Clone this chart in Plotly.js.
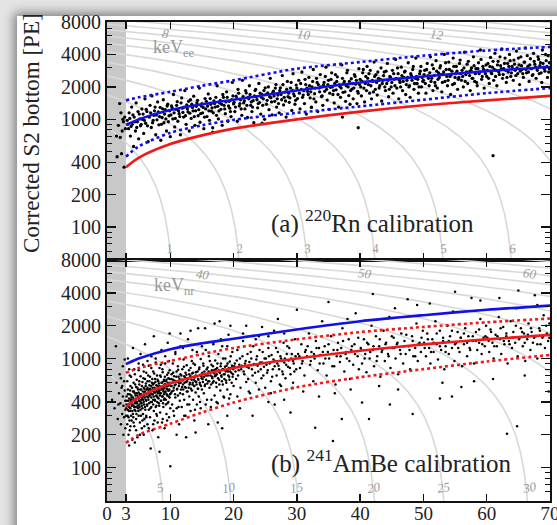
<!DOCTYPE html>
<html><head><meta charset="utf-8">
<script src="https://cdn.plot.ly/plotly-3.0.1.min.js"></script>
<style>
html,body{margin:0;padding:0;width:557px;height:525px;overflow:hidden;background:#e4e4e4;}
#card{position:absolute;left:17px;top:16px;width:620px;height:600px;background:#fff;box-shadow:0 0 10px 3px rgba(0,0,0,0.45);}
#plot{position:absolute;left:0;top:0;width:557px;height:525px;}
</style></head>
<body><div id="card"></div><div id="plot"></div>
<script>
// ---------- data ----------
const xTickVals = [0,3,10,20,30,40,50,60,70];
const yTickVals = [100,200,400,1000,2000,4000,8000];
const yMinorVals = [50,60,70,80,90,300,500,600,700,800,900,3000,5000,6000,7000];

// band curves (cS1 in PE, cS2 bottom in PE)
const bandS1  = [3,5,10,15,20,30,40,50,60,70];
const erMean  = [890,1000,1220,1380,1520,1850,2200,2500,2800,3060];
const erUpper = [1500,1600,1800,2050,2300,2950,3400,3900,4350,4700];
const erLower = [450,560,750,880,990,1150,1320,1520,1750,1950];
const nrMean  = [360,440,590,710,820,1000,1180,1350,1500,1650];
const nrUpper = [740,820,950,1100,1250,1500,1750,1950,2150,2330];
const nrLower = [169,200,253,320,395,545,675,800,940,1080];

// energy contour lines: S1 and S2 per keVee
const s1PerKeVee = 10.75;
const s2PerKeVee = 848;
const eeEnergies = [1,2,3,4,5,6,7,8,9,10,11,12,13,14,15,16];
const nrEnergies = [5,10,15,20,25,30,35,40,45,50,55,60,65,70];
const nrAsKeVee  = [0.88,1.88,2.87,3.99,5.01,6.24,7.4,8.56,9.75,10.94,12.15,13.36,14.6,15.8];

// 220Rn calibration events [cS1, cS2b]
const rnEventsA = [
[2.0,1400],[2.2,1150],[2.6,950],[1.8,880],[2.4,780],[1.5,700],[2.1,680],[2.9,820],[2.3,480],[1.6,450],[2.7,360],[2.5,1000],[2.8,1050],
[3.2,980],[3.4,820],[3.5,1150],[3.7,700],[3.9,1300],[4.0,900],[4.2,560],[4.3,1050],[4.5,780],[4.6,1420],[4.8,950],[5.0,660],[5.1,1120],[5.3,870],[5.5,1250],[5.6,1000],[5.8,740],[6.0,1550],[6.1,920],[6.3,1180],[6.5,620],[6.6,1060],[6.8,1350],[7.0,840],[7.1,1650],[7.3,980],[7.5,1200],[7.7,720],[7.8,1100],[8.0,1450],[8.2,890],[8.4,1290],[8.5,640],[8.7,1040],[8.9,1520],[9.0,930],[9.2,1230],[9.4,780],[9.6,1380],[9.8,1080],[10.0,690],
[10.2,1330],[10.4,1010],[10.5,1700],[10.7,850],[10.9,1240],[11.1,1460],[11.2,960],[11.4,1130],[11.6,720],[11.8,1580],[11.9,1270],[12.1,1050],[12.3,1850],[12.5,900],[12.6,1360],[12.8,1170],[13.0,780],[13.2,1520],[13.3,1020],[13.5,1290],[13.7,1640],[13.9,880],[14.0,1200],[14.2,1420],[14.4,1080],[14.6,1950],[14.7,940],[14.9,1330],[15.1,1150],[15.3,820],[15.5,1560],[15.6,1250],[15.8,1060],[16.0,1720],[16.2,980],[16.4,1380],[16.5,1190],[16.7,760],[16.9,1480],[17.1,1300],[17.3,1090],[17.4,2050],[17.6,1010],[17.8,1420],[18.0,1240],[18.2,880],[18.4,1600],[18.5,1350],[18.7,1130],[18.9,1800],[19.1,960],[19.3,1470],[19.4,1270],[19.6,1060],[19.8,2200],[20.0,1390],
[20.2,1180],[20.4,1640],[20.6,960],[20.7,1900],[20.9,1330],[21.1,1520],[21.3,1090],[21.4,2300],[21.6,1420],[21.8,1250],[22.0,1760],[22.2,1040],[22.3,1600],[22.5,2050],[22.7,1350],[22.9,1180],[23.1,1490],[23.2,930],[23.4,1850],[23.6,1620],[23.8,1280],[24.0,2150],[24.1,1430],[24.3,1120],[24.5,1700],[24.7,1550],[24.9,1000],[25.0,1960],[25.2,1380],[25.4,1760],[25.6,1230],[25.8,2400],[25.9,1590],[26.1,1100],[26.3,1830],[26.5,1470],[26.7,2100],[26.8,1300],[27.0,1680],[27.2,1150],[27.4,1960],[27.6,1520],[27.7,2550],[27.9,1360],[28.1,1790],[28.3,1050],[28.5,2250],[28.6,1620],[28.8,1440],[29.0,1950],[29.2,1210],[29.4,2650],[29.5,1720],[29.7,1380],[29.9,2080],
[30.1,1560],[30.3,2300],[30.5,1250],[30.7,1900],[30.8,2750],[31.0,1680],[31.2,1400],[31.4,2100],[31.5,1120],[31.7,1820],[31.9,2450],[32.1,1580],[32.3,1290],[32.4,2000],[32.6,2900],[32.8,1730],[33.0,1450],[33.2,2200],[33.3,1180],[33.5,1950],[33.7,2600],[33.9,1630],[34.1,1350],[34.2,2080],[34.4,1820],[34.6,3050],[34.8,1510],[35.0,2300],[35.1,1240],[35.3,1980],[35.5,2700],[35.7,1700],[35.9,1420],[36.0,2150],[36.2,1880],[36.4,2480],[36.6,1300],[36.8,2020],[36.9,1600],[37.1,3200],[37.3,1780],[37.5,2250],[37.7,1470],[37.8,2050],[38.0,2850],[38.2,1660],[38.4,1380],[38.6,2380],[38.7,1910],[38.9,1550],[39.1,2600],[39.3,2120],[39.5,1400],[39.6,1820],[39.8,2950],
[40.0,2350],[40.2,1650],[40.4,2700],[40.6,1950],[40.7,1450],[40.9,2500],[41.1,3100],[41.3,2100],[41.5,1750],[41.6,2850],[41.8,1550],[42.0,2250],[42.2,3400],[42.4,1900],[42.5,2600],[42.7,1680],[42.9,2400],[43.1,2050],[43.3,3000],[43.4,1480],[43.6,2300],[43.8,2750],[44.0,1850],[44.2,2150],[44.3,3300],[44.5,1620],[44.7,2500],[44.9,2000],[45.1,2850],[45.2,1750],[45.4,2350],[45.6,3600],[45.8,1950],[46.0,2650],[46.1,1550],[46.3,2200],[46.5,3050],[46.7,1850],[46.9,2450],[47.0,2750],[47.2,1700],[47.4,2300],[47.6,3350],[47.8,2050],[47.9,1600],[48.1,2550],[48.3,2900],[48.5,1900],[48.7,2400],[48.8,3700],[49.0,2150],[49.2,1750],[49.4,2650],[49.6,3100],[49.7,2000],
[50.0,2300],[50.2,2850],[50.4,1750],[50.6,3300],[50.7,2550],[50.9,2050],[51.1,3800],[51.3,2400],[51.5,1850],[51.6,2950],[51.8,2200],[52.0,3500],[52.2,1950],[52.4,2700],[52.5,2450],[52.7,3150],[52.9,1800],[53.1,2600],[53.3,4000],[53.4,2250],[53.6,2900],[53.8,2050],[54.0,3400],[54.2,2500],[54.3,1700],[54.5,2800],[54.7,3700],[54.9,2150],[55.1,2650],[55.2,3100],[55.4,1900],[55.6,2450],[55.8,3550],[56.0,2300],[56.1,2850],[56.3,2000],[56.5,4200],[56.7,2600],[56.9,3250],[57.0,2150],[57.2,2750],[57.4,1850],[57.6,3000],[57.8,2400],[57.9,3800],[58.1,2250],[58.3,2950],[58.5,2050],[58.7,3350],[58.8,2650],[59.0,4400],[59.2,2350],[59.4,3100],[59.6,1950],[59.7,2800],
[60.0,2500],[60.2,3300],[60.4,2150],[60.6,3750],[60.7,2700],[60.9,3050],[61.1,2300],[61.3,4100],[61.5,2850],[61.6,2050],[61.8,3450],[62.0,2600],[62.2,3150],[62.4,4500],[62.5,2400],[62.7,2950],[62.9,3700],[63.1,2200],[63.3,3300],[63.4,2750],[63.6,4000],[63.8,2500],[64.0,3100],[64.2,2300],[64.3,3550],[64.5,2850],[64.7,4300],[64.9,2650],[65.1,3200],[65.2,2100],[65.4,3800],[65.6,2900],[65.8,2450],[66.0,3400],[66.1,4600],[66.3,2700],[66.5,3100],[66.7,2250],[66.9,3650],[67.0,2950],[67.2,2550],[67.4,4100],[67.6,3250],[67.8,2400],[67.9,3000],[68.1,3800],[68.3,2650],[68.5,3350],[68.7,2200],[68.8,4400],[69.0,3050],[69.2,2800],[69.4,3500],[69.6,2450],[69.7,3900],[69.9,2950],
[16.7,836],[37.2,1050],[39.7,836],[61.0,460],[32.3,1300],[24.5,920]
];
const rnEventsB = [
[3.3,900],[3.6,1020],[3.8,860],[4.1,1100],[4.4,950],[4.7,840],[4.9,1180],[5.2,1010],[5.4,900],[5.7,1120],[5.9,980],[6.2,1240],[6.4,870],[6.7,1050],[6.9,1150],[7.2,930],[7.4,1090],[7.6,1300],[7.9,990],[8.1,1170],[8.3,1060],[8.6,900],[8.8,1250],[9.1,1120],[9.3,1010],[9.5,1330],[9.7,950],[9.9,1200],
[10.1,1100],[10.3,1280],[10.6,1150],[10.8,1020],[11.0,1350],[11.3,1200],[11.5,1060],[11.7,1420],[12.0,1160],[12.2,1300],[12.4,1080],[12.7,1250],[12.9,1470],[13.1,1140],[13.4,1380],[13.6,1200],[13.8,1060],[14.1,1320],[14.3,1500],[14.5,1230],[14.8,1130],[15.0,1400],[15.2,1290],[15.4,1050],[15.7,1470],[15.9,1330],[16.1,1200],[16.3,1560],[16.6,1280],[16.8,1150],[17.0,1400],[17.2,1600],[17.5,1320],[17.7,1200],[17.9,1500],[18.1,1380],[18.3,1700],[18.6,1250],[18.8,1450],[19.0,1600],[19.2,1330],[19.5,1180],[19.7,1520],[19.9,1650],
[20.1,1440],[20.3,1300],[20.5,1560],[20.8,1750],[21.0,1400],[21.2,1250],[21.5,1620],[21.7,1480],[21.9,1850],[22.1,1350],[22.4,1550],[22.6,1700],[22.8,1450],[23.0,1300],[23.3,1650],[23.5,1900],[23.7,1520],[23.9,1400],[24.2,1750],[24.4,1600],[24.6,1350],[24.8,1850],[25.1,1700],[25.3,1500],[25.5,2000],[25.7,1620],[26.0,1450],[26.2,1780],[26.4,1650],[26.6,1950],[26.9,1550],[27.1,1400],[27.3,1850],[27.5,1700],[27.8,2100],[28.0,1600],[28.2,1480],[28.4,1900],[28.7,1750],[28.9,1580],[29.1,2200],[29.3,1850],[29.6,1650],[29.8,1500],
[30.0,1950],[30.4,1750],[30.6,2150],[30.9,1600],[31.1,1850],[31.3,2350],[31.6,1950],[31.8,1700],[32.0,2050],[32.2,1800],[32.5,2250],[32.7,1550],[32.9,1950],[33.1,2400],[33.4,2100],[33.6,1800],[33.8,2000],[34.0,1650],[34.3,2200],[34.5,2500],[34.7,1900],[34.9,2100],[35.2,1750],[35.4,2350],[35.6,2000],[35.8,1850],[36.1,2600],[36.3,2250],[36.5,1700],[36.7,2100],[37.0,1950],[37.2,2400],[37.4,2150],[37.6,1800],[37.9,2700],[38.1,2000],[38.3,2250],[38.5,1850],[38.8,2150],[39.0,1950],[39.2,2500],[39.4,2300],[39.7,1750],[39.9,2100],
[40.1,2000],[40.3,2250],[40.5,2900],[40.8,2150],[41.0,1850],[41.2,2400],[41.4,2650],[41.7,2050],[41.9,2300],[42.1,1800],[42.3,2500],[42.6,2200],[42.8,2750],[43.0,1950],[43.2,2350],[43.5,2150],[43.7,2550],[43.9,2000],[44.1,2800],[44.4,2300],[44.6,1900],[44.8,2450],[45.0,2200],[45.3,2650],[45.5,2050],[45.7,2400],[45.9,3000],[46.2,2300],[46.4,2000],[46.6,2550],[46.8,2250],[47.1,2800],[47.3,2100],[47.5,2450],[47.7,2000],[48.0,2650],[48.2,2300],[48.4,3100],[48.6,2150],[48.9,2500],[49.1,2350],[49.3,2000],[49.5,2800],[49.8,2450],[49.9,2250],
[50.1,2600],[50.3,2150],[50.5,2900],[50.8,2400],[51.0,2700],[51.2,2250],[51.4,3200],[51.7,2550],[51.9,2050],[52.1,2800],[52.3,2350],[52.6,3000],[52.8,2600],[53.0,2200],[53.2,2750],[53.5,3350],[53.7,2500],[53.9,2300],[54.1,2900],[54.4,2600],[54.6,2100],[54.8,3100],[55.0,2450],[55.3,2800],[55.5,2350],[55.7,3300],[55.9,2650],[56.2,2500],[56.4,3000],[56.6,2250],[56.8,2750],[57.1,3450],[57.3,2550],[57.5,2850],[57.7,2400],[58.0,3150],[58.2,2650],[58.4,2200],[58.6,2950],[58.9,2750],[59.1,3600],[59.3,2500],[59.5,2900],[59.8,2650],[59.9,3200],
[60.1,2850],[60.3,2400],[60.5,3100],[60.8,2650],[61.0,3450],[61.2,2900],[61.4,2500],[61.7,3200],[61.9,2750],[62.1,3800],[62.3,2950],[62.6,2600],[62.8,3300],[63.0,2850],[63.2,2450],[63.5,3100],[63.7,3500],[63.9,2700],[64.1,2950],[64.4,3250],[64.6,2550],[64.8,3000],[65.0,3700],[65.3,2800],[65.5,3150],[65.7,2650],[65.9,3400],[66.2,2900],[66.4,3900],[66.6,2750],[66.8,3200],[67.1,2950],[67.3,2600],[67.5,3450],[67.7,3050],[68.0,2850],[68.2,3600],[68.4,3150],[68.6,2700],[68.9,3300],[69.1,2950],[69.3,4000],[69.5,3100],[69.8,2750],[69.9,3350]
];

// 241AmBe calibration events [cS1, cS2b]
const ambeEventsA = [
[0.8,420],[1.2,350],[1.5,600],[1.7,280],[1.9,480],[2.0,720],[2.1,390],[2.2,250],[2.3,540],[2.4,310],[2.5,850],[2.5,450],[2.6,370],[2.7,620],[2.7,290],[2.8,510],[2.8,980],[2.9,410],[2.9,340],[2.9,230],[1.4,1300],[2.6,200],[2.2,660],[1.8,380],[2.4,560],
[3.0,300],[3.1,450],[3.1,380],[3.2,620],[3.2,250],[3.3,340],[3.3,520],[3.4,410],[3.4,290],[3.5,800],[3.5,360],[3.6,470],[3.6,220],[3.7,560],[3.7,330],[3.8,400],[3.8,680],[3.9,270],[3.9,440],[4.0,380],[4.0,950],[4.1,500],[4.1,310],[4.2,420],[4.2,600],[4.3,240],[4.3,360],[4.4,480],[4.4,720],[4.5,330],[4.5,410],[4.6,550],[4.6,280],[4.7,390],[4.7,640],[4.8,460],[4.8,190],[4.9,350],[4.9,520],[5.0,430],[5.0,300],[5.0,780],[5.1,380],[5.1,580],[5.2,260],[5.2,470],[5.3,340],[5.3,690],[5.4,420],[5.4,520],[5.5,230],[5.5,370],[5.6,610],[5.6,450],[5.7,310],[5.7,880],[5.8,400],[5.8,540],[5.9,280],[5.9,480],[6.0,360],[6.0,650],[3.5,160],[4.4,170],[5.3,1100],[4.1,1250],[3.3,1000],[5.8,200],
[6.1,420],[6.1,560],[6.2,300],[6.2,740],[6.3,480],[6.3,380],[6.4,620],[6.4,250],[6.5,520],[6.5,440],[6.6,860],[6.6,340],[6.7,570],[6.7,460],[6.8,290],[6.8,680],[6.9,400],[6.9,510],[7.0,1050],[7.0,360],[7.1,600],[7.1,470],[7.2,220],[7.2,540],[7.3,420],[7.3,760],[7.4,330],[7.4,590],[7.5,490],[7.5,270],[7.6,650],[7.6,410],[7.7,530],[7.7,920],[7.8,370],[7.8,460],[7.9,700],[7.9,300],[8.0,560],[8.0,440],[8.1,190],[8.1,620],[8.2,500],[8.2,390],[8.3,820],[8.3,560],[8.4,320],[8.4,480],[8.5,680],[8.5,410],[8.6,1200],[8.6,540],[8.7,260],[8.7,600],[8.8,450],[8.8,750],[8.9,360],[8.9,520],[9.0,640],[9.0,420],[9.1,230],[9.1,580],[9.2,490],[9.2,900],[9.3,380],[9.3,620],[9.4,530],[9.4,310],[9.5,710],[9.5,460],[9.6,560],[9.6,1400],[9.7,400],[9.7,660],[9.8,290],[9.8,510],[9.9,780],[9.9,440],[10.0,600],[10.0,350],[6.9,150],[8.3,140],[10.0,103],[7.4,1600],[9.9,1700],[6.0,1350],
[10.1,480],[10.2,720],[10.2,560],[10.3,380],[10.4,640],[10.4,900],[10.5,510],[10.6,300],[10.6,690],[10.7,570],[10.8,440],[10.8,1100],[10.9,620],[11.0,350],[11.0,760],[11.1,530],[11.2,460],[11.2,850],[11.3,680],[11.4,250],[11.4,590],[11.5,410],[11.6,1300],[11.6,720],[11.7,520],[11.8,640],[11.8,360],[11.9,800],[12.0,470],[12.0,580],[12.1,980],[12.2,690],[12.2,420],[12.3,550],[12.4,300],[12.4,740],[12.5,610],[12.6,500],[12.6,870],[12.7,380],[12.8,660],[12.8,1500],[12.9,540],[13.0,720],[13.0,450],[13.1,600],[13.2,330],[13.2,820],[13.3,680],[13.4,510],[13.4,950],[13.5,580],[13.6,420],[13.6,740],[13.7,640],[13.8,270],[13.8,560],[13.9,880],[14.0,490],[14.0,700],[14.1,610],[14.2,1150],[14.2,380],[14.3,760],[14.4,530],[14.4,650],[14.5,450],[14.6,830],[14.7,580],[14.8,350],[14.8,990],[14.9,690],[15.0,520],[11.0,200],[12.5,190],[14.0,210],[13.2,1800],
[15.1,650],[15.2,900],[15.3,480],[15.4,760],[15.5,580],[15.6,1200],[15.7,700],[15.8,420],[15.9,830],[16.0,620],[16.1,1050],[16.2,540],[16.3,740],[16.4,360],[16.5,880],[16.6,680],[16.7,600],[16.8,1400],[16.9,780],[17.0,460],[17.1,960],[17.2,700],[17.3,550],[17.4,820],[17.5,390],[17.6,1100],[17.7,640],[17.8,750],[17.9,510],[18.0,900],[18.1,680],[18.2,1300],[18.3,580],[18.4,800],[18.5,440],[18.6,720],[18.7,1000],[18.8,630],[18.9,860],[19.0,520],[19.1,760],[19.2,1650],[19.3,680],[19.4,940],[19.5,470],[19.6,820],[19.7,600],[19.8,1150],[19.9,720],[20.0,560],[16.0,250],[17.5,260],[19.0,300],[18.2,230],[15.5,1900],[17.0,2100],[19.5,2000],
[20.2,900],[20.4,650],[20.6,1200],[20.8,780],[21.0,1000],[21.1,540],[21.3,860],[21.5,1450],[21.7,720],[21.9,950],[22.0,610],[22.2,1100],[22.4,820],[22.6,480],[22.8,1000],[23.0,700],[23.1,1300],[23.3,880],[23.5,600],[23.7,1050],[23.9,760],[24.0,1600],[24.2,920],[24.4,660],[24.6,1150],[24.8,840],[25.0,540],[25.1,1000],[25.3,740],[25.5,1250],[25.7,900],[25.9,620],[26.0,1080],[26.2,800],[26.4,1800],[26.6,950],[26.8,700],[27.0,1150],[27.1,860],[27.3,580],[27.5,1000],[27.7,760],[27.9,1400],[28.0,920],[28.2,660],[28.4,1100],[28.6,840],[28.8,1250],[29.0,720],[29.1,1000],[29.3,540],[29.5,900],[29.7,1500],[29.9,800],[21.0,350],[23.0,300],[25.5,400],[28.0,420],[22.0,2000],[27.0,2300],[24.5,1950],[29.0,320],[26.5,380],
[30.2,1100],[30.5,820],[30.7,1350],[30.9,950],[31.2,700],[31.4,1200],[31.6,1050],[31.9,1700],[32.1,880],[32.3,1150],[32.6,620],[32.8,1000],[33.0,1450],[33.3,780],[33.5,1250],[33.7,1080],[34.0,2200],[34.2,900],[34.4,1300],[34.7,700],[34.9,1150],[35.1,1000],[35.4,1600],[35.6,850],[35.8,1200],[36.1,580],[36.3,1050],[36.5,1400],[36.8,930],[37.0,1250],[37.2,1900],[37.5,760],[37.7,1100],[37.9,1000],[38.2,1500],[38.4,650],[38.6,1200],[38.9,880],[39.1,1350],[39.3,2600],[39.6,1050],[39.8,800],[31.0,500],[33.5,450],[36.0,480],[38.5,520],[32.9,232],[35.7,176],[37.1,280],[30.0,2800],[35.0,3300],[38.0,2300],
[40.1,1250],[40.3,900],[40.6,1500],[40.8,1100],[41.0,750],[41.3,1350],[41.5,1000],[41.8,2000],[42.0,1200],[42.2,850],[42.5,1600],[42.7,1050],[43.0,1300],[43.2,680],[43.4,1150],[43.7,1800],[43.9,950],[44.1,1400],[44.4,1100],[44.6,2400],[44.8,820],[45.1,1250],[45.3,1550],[45.6,1000],[45.8,1350],[46.0,720],[46.3,1200],[46.5,1700],[46.8,900],[47.0,1450],[47.2,1100],[47.5,3500],[47.7,1300],[47.9,800],[48.2,1600],[48.4,1050],[48.7,1250],[48.9,2100],[49.1,950],[49.4,1400],[49.6,1150],[49.9,1800],[41.4,280],[44.7,380],[40.3,395],[48.3,310],[43.0,560],[46.0,520],[42.0,3900],[45.5,2900],[49.0,3100],
[50.1,1400],[50.4,1050],[50.6,1700],[50.9,1250],[51.1,900],[51.4,1500],[51.6,1150],[51.9,2200],[52.1,1350],[52.3,980],[52.6,1800],[52.8,1200],[53.1,1450],[53.3,800],[53.5,1300],[53.8,2000],[54.0,1100],[54.2,1600],[54.5,1250],[54.7,2700],[54.9,950],[55.2,1400],[55.4,1750],[55.7,1150],[55.9,1550],[56.1,850],[56.4,1350],[56.6,1900],[56.9,1050],[57.1,1600],[57.3,1250],[57.6,3600],[57.8,1450],[58.0,900],[58.3,1750],[58.5,1200],[58.8,1400],[59.0,2300],[59.2,1100],[59.5,1550],[59.7,1300],[59.9,2000],[52.6,430],[54.5,450],[53.0,600],[56.0,550],[58.0,620],[51.0,3200],[55.0,4100],[59.0,3400],
[60.1,1550],[60.4,1150],[60.6,1850],[60.9,1400],[61.1,1000],[61.4,1650],[61.6,1300],[61.9,2400],[62.1,1500],[62.3,1100],[62.6,1950],[62.8,1350],[63.1,1600],[63.3,900],[63.5,1450],[63.8,2200],[64.0,1250],[64.2,1750],[64.5,1400],[64.7,2900],[64.9,1050],[65.2,1550],[65.4,1900],[65.7,1300],[65.9,1700],[66.1,950],[66.4,1500],[66.6,2100],[66.9,1200],[67.1,1750],[67.3,1400],[67.6,3800],[67.8,1600],[68.0,1000],[68.3,1900],[68.5,1350],[68.8,1550],[69.0,2500],[69.2,1250],[69.5,1700],[69.7,1450],[69.9,2100],[63.2,205],[64.8,240],[69.8,500],[61.0,650],[66.0,700],[62.0,3600],[65.0,4200],[68.0,3100]
];
const ambeEventsB = [
[3.05,350],[3.15,410],[3.25,300],[3.3,470],[3.35,380],[3.45,330],[3.5,430],[3.55,270],[3.6,390],[3.65,510],[3.7,350],[3.75,420],[3.8,300],[3.85,460],[3.9,370],[3.95,540],[4.0,330],[4.05,410],[4.1,440],[4.15,290],[4.2,370],[4.25,500],[4.3,420],[4.35,340],[4.4,390],[4.45,580],[4.5,460],[4.55,360],[4.6,430],[4.65,310],[4.7,480],[4.75,400],[4.8,540],[4.85,370],[4.9,440],[4.95,330],[5.0,490],[5.05,410],[5.1,620],[5.15,360],[5.2,450],[5.25,520],[5.3,400],[5.35,300],[5.4,470],[5.45,390],[5.5,560],[5.55,430],[5.6,350],[5.65,500],[5.7,420],[5.75,660],[5.8,460],[5.85,380],[5.9,530],[5.95,440],[6.0,500],[6.05,340],[6.1,470],[6.15,590],[6.2,410],[6.25,520],[6.3,450],[6.35,370],[6.4,540],[6.45,480],[6.5,700],[6.55,420],[6.6,500],[6.65,390],[6.7,620],[6.75,460],[6.8,530],[6.85,350],[6.9,480],[6.95,560],[7.0,440],[7.05,510],[7.1,400],[7.15,650],[7.2,470],[7.25,580],[7.3,380],[7.35,500],[7.4,450],[7.45,730],[7.5,540],[7.55,420],[7.6,490],[7.65,610],[7.7,360],[7.75,520],[7.8,570],[7.85,450],[7.9,500],[7.95,400],[8.0,640],[8.05,480],[8.1,530],[8.15,430],[8.2,590],[8.25,370],[8.3,510],[8.35,460],[8.4,700],[8.45,550],[8.5,480],[8.55,410],[8.6,600],[8.65,520],[8.7,450],[8.75,800],[8.8,560],[8.85,390],[8.9,500],[8.95,620],[9.0,470],[9.05,540],[9.1,430],[9.15,680],[9.2,580],[9.25,500],[9.3,420],[9.35,560],[9.4,640],[9.45,470],[9.5,530],[9.55,390],[9.6,600],[9.65,510],[9.7,740],[9.75,450],[9.8,580],[9.85,520],[9.9,650],[9.95,470],
[3.4,200],[4.0,180],[4.6,220],[5.2,200],[5.9,240],[6.6,230],[7.3,250],[8.0,260],[8.8,280],[9.5,270],[4.2,260],[3.7,240],[5.6,270],[6.2,290],[7.8,310],[3.6,700],[4.3,800],[5.0,900],[5.8,760],[6.4,950],[7.0,820],[7.7,1000],[8.5,880],[9.2,1050],[9.8,950],
[10.05,560],[10.15,650],[10.25,500],[10.35,600],[10.45,740],[10.55,540],[10.65,630],[10.75,470],[10.85,580],[10.95,680],[11.05,520],[11.15,610],[11.25,790],[11.35,560],[11.45,650],[11.55,480],[11.65,600],[11.75,700],[11.85,550],[11.95,630],[12.05,520],[12.15,840],[12.25,600],[12.35,670],[12.45,540],[12.55,710],[12.65,620],[12.75,500],[12.85,650],[12.95,780],[13.05,580],[13.15,690],[13.25,530],[13.35,640],[13.45,730],[13.55,600],[13.65,900],[13.75,560],[13.85,670],[13.95,620],[14.05,750],[14.15,580],[14.25,690],[14.35,530],[14.45,640],[14.55,800],[14.65,600],[14.75,710],[14.85,560],[14.95,660],[15.05,740],[15.15,610],[15.25,860],[15.35,680],[15.45,560],[15.55,720],[15.65,640],[15.75,800],[15.85,590],[15.95,700],[16.05,760],[16.15,620],[16.25,950],[16.35,700],[16.45,580],[16.55,780],[16.65,660],[16.75,850],[16.85,620],[16.95,730],[17.05,690],[17.15,800],[17.25,600],[17.35,720],[17.45,900],[17.55,660],[17.65,780],[17.75,580],[17.85,740],[17.95,850],[18.05,700],[18.15,620],[18.25,800],[18.35,1000],[18.45,720],[18.55,650],[18.65,840],[18.75,760],[18.85,600],[18.95,780],[19.05,900],[19.15,700],[19.25,820],[19.35,640],[19.45,760],[19.55,1050],[19.65,740],[19.75,860],[19.85,680],[19.95,800],
[10.5,330],[11.3,360],[12.2,300],[13.0,380],[13.9,340],[14.7,400],[15.6,380],[16.5,420],[17.3,400],[18.4,450],[19.3,430],[10.8,1150],[12.0,1250],[13.5,1200],[15.0,1300],[16.8,1350],[18.0,1500],[19.0,1300],[11.6,1700],[14.4,1900],[17.8,2200],
[20.1,850],[20.3,760],[20.5,960],[20.7,700],[20.9,880],[21.2,800],[21.4,1050],[21.6,760],[21.8,900],[22.1,840],[22.3,650],[22.5,930],[22.7,1150],[22.9,800],[23.2,890],[23.4,740],[23.6,980],[23.8,860],[24.1,1200],[24.3,800],[24.5,920],[24.7,700],[24.9,1000],[25.2,880],[25.4,780],[25.6,1050],[25.8,920],[26.1,680],[26.3,980],[26.5,850],[26.7,1250],[26.9,900],[27.2,800],[27.4,1050],[27.6,950],[27.8,720],[28.1,1000],[28.3,880],[28.5,1300],[28.7,960],[28.9,820],[29.2,1100],[29.4,950],[29.6,760],[29.8,1050],[20.6,450],[22.4,500],[24.0,520],[25.9,480],[27.5,560],[29.4,600],[21.5,1700],[23.5,1500],[25.5,1600],[28.0,1700],
[30.4,1050],[30.8,900],[31.3,1150],[31.7,1300],[32.2,950],[32.7,1100],[33.1,1250],[33.6,900],[34.1,1150],[34.5,1000],[35.0,1350],[35.5,1100],[35.9,850],[36.4,1200],[36.9,1050],[37.3,1450],[37.8,1150],[38.3,950],[38.7,1300],[39.2,1100],[39.7,1550],[40.2,1200],[40.7,1000],[41.1,1400],[41.6,1150],[42.1,1300],[42.6,950],[43.1,1500],[43.5,1200],[44.0,1350],[44.5,1050],[45.0,1600],[45.4,1250],[45.9,1400],[46.4,1100],[46.9,1300],[47.3,1650],[47.8,1200],[48.3,1450],[48.7,1050],[49.2,1350],[49.7,1550],[50.2,1250],[50.7,1500],[51.2,1150],[51.6,1400],[52.1,1700],[52.6,1300],[53.1,1550],[53.5,1150],[54.0,1450],[54.5,1800],[55.0,1350],[55.5,1250],[55.9,1550],[56.4,1700],[56.9,1400],[57.4,1200],[57.8,1600],[58.3,1450],[58.8,1850],[59.3,1350],[59.8,1600],[60.3,1450],[60.7,1750],[61.2,1300],[61.7,1600],[62.2,1900],[62.7,1450],[63.1,1700],[63.6,1350],[64.1,1550],[64.6,2000],[65.1,1500],[65.6,1750],[66.0,1400],[66.5,1650],[67.0,1900],[67.5,1550],[68.0,1350],[68.4,1800],[68.9,1600],[69.4,2000],[69.9,1550]
];

// ---------- build traces ----------
const SERIF = '"Liberation Serif", "DejaVu Serif", serif';
const GRID = '#d8d8d8';
function contour(eKeVee, xa, ya) {
  // straight line of constant combined energy: S2 = s2PerKeVee*E - (s2PerKeVee/s1PerKeVee)*S1
  const a = s2PerKeVee * eKeVee, x0 = s1PerKeVee * eKeVee;
  const xs = [], ys = [];
  const n = 500, vmin = 25 / a;
  for (let i = 0; i <= n; i++) {
    const v = Math.pow(10, Math.log10(vmin) * i / n);
    xs.push(x0 * (1 - v)); ys.push(a * v);
  }
  return {x: xs, y: ys, xaxis: xa, yaxis: ya, mode: 'lines', type: 'scatter',
          line: {color: GRID, width: 1.6}, hoverinfo: 'skip', showlegend: false};
}
const traces = [];
eeEnergies.forEach(e => traces.push(contour(e, 'x', 'y')));
nrAsKeVee.forEach(e => traces.push(contour(e, 'x2', 'y2')));

const rnEvents = rnEventsA.concat(rnEventsB);
const ambeEvents = ambeEventsA.concat(ambeEventsB);
traces.push({x: rnEvents.map(p => p[0]), y: rnEvents.map(p => p[1]), xaxis: 'x', yaxis: 'y',
  mode: 'markers', type: 'scatter', marker: {color: '#000', size: 3.3}, showlegend: false});
traces.push({x: ambeEvents.map(p => p[0]), y: ambeEvents.map(p => p[1]), xaxis: 'x2', yaxis: 'y2',
  mode: 'markers', type: 'scatter', marker: {color: '#000', size: 2.5}, showlegend: false});

function band(ys, color, dash, xa, ya) {
  return {x: bandS1, y: ys, xaxis: xa, yaxis: ya, mode: 'lines', type: 'scatter',
    line: {color: color, width: 2.6, dash: dash || 'solid', shape: 'spline', smoothing: 0.8},
    showlegend: false};
}
const BLUE = '#1010e8', RED = '#f01818';
traces.push(band(erUpper, BLUE, 'dot', 'x', 'y'));
traces.push(band(erLower, BLUE, 'dot', 'x', 'y'));
traces.push(band(erMean, BLUE, null, 'x', 'y'));
traces.push(band(nrMean, RED, null, 'x', 'y'));
traces.push(band(nrUpper, RED, 'dot', 'x2', 'y2'));
traces.push(band(nrLower, RED, 'dot', 'x2', 'y2'));
traces.push(band(erMean, BLUE, null, 'x2', 'y2'));
traces.push(band(nrMean, RED, null, 'x2', 'y2'));

// ---------- layout ----------
const yr = [Math.log10(49.5), Math.log10(8000)];
const yCommon = {type: 'log', range: yr, tickvals: yTickVals, ticktext: yTickVals.map(String),
  ticks: 'inside', ticklen: 9, tickwidth: 1.3, tickcolor: '#111', mirror: 'ticks',
  showline: true, linecolor: '#111', linewidth: 2, showgrid: false, zeroline: false,
  tickfont: {family: SERIF, size: 20, color: '#222'}, ticklabeloverflow: 'allow',
  minor: {tickvals: yMinorVals, ticks: 'inside', ticklen: 5, tickwidth: 1, tickcolor: '#111', showgrid: false}};
const xCommon = {range: [0, 70], tickvals: xTickVals, ticktext: xTickVals.map(String),
  ticks: 'inside', ticklen: 7, tickwidth: 1.3, tickcolor: '#111', mirror: 'ticks',
  showline: true, linecolor: '#111', linewidth: 2, showgrid: false, zeroline: false,
  tickfont: {family: SERIF, size: 19, color: '#222'}, ticklabeloverflow: 'allow'};

const labFont = {family: SERIF, size: 13, color: '#9a9a9a', style: 'italic'};
function lab(text, x, y, xa, ya, ang) {
  return {text: text, x: x, y: Math.log10(y), xref: xa, yref: ya, showarrow: false, font: labFont, textangle: ang || 0};
}
const annotations = [
  lab('8', 9.2, 6270, 'x', 'y', 8), lab('10', 31.1, 6120, 'x', 'y', 8), lab('12', 52.1, 6120, 'x', 'y', 8),
  lab('1', 9.8, 64, 'x', 'y', -10), lab('2', 20.9, 64, 'x', 'y', -10), lab('3', 31.6, 64, 'x', 'y', -10),
  lab('4', 42.5, 64, 'x', 'y', -10), lab('5', 53.2, 64, 'x', 'y', -10), lab('6', 64.0, 64, 'x', 'y', -10),
  lab('40', 15.2, 5930, 'x2', 'y2', 8), lab('50', 40.8, 6000, 'x2', 'y2', 8), lab('60', 66.8, 6000, 'x2', 'y2', 8),
  lab('5', 8.4, 66, 'x2', 'y2', -10), lab('10', 19.3, 66, 'x2', 'y2', -10), lab('15', 30.0, 66, 'x2', 'y2', -10),
  lab('20', 42.2, 66, 'x2', 'y2', -10), lab('25', 53.2, 66, 'x2', 'y2', -10), lab('30', 66.7, 66, 'x2', 'y2', -10),
  {text: 'keV<sub>ee</sub>', x: 10.6, y: Math.log10(4590), xref: 'x', yref: 'y', showarrow: false,
   font: {family: SERIF, size: 18, color: '#999'}},
  {text: 'keV<sub>nr</sub>', x: 10.6, y: Math.log10(4600), xref: 'x2', yref: 'y2', showarrow: false,
   font: {family: SERIF, size: 18, color: '#999'}},
  {text: '(a) <sup>220</sup>Rn calibration', x: 41.9, y: Math.log10(112), xref: 'x', yref: 'y', showarrow: false,
   font: {family: SERIF, size: 25, color: '#222'}},
  {text: '(b) <sup>241</sup>AmBe calibration', x: 45.0, y: Math.log10(114), xref: 'x2', yref: 'y2', showarrow: false,
   font: {family: SERIF, size: 25, color: '#222'}},
  {text: 'Corrected S2 bottom [PE]', xref: 'paper', yref: 'paper', x: -0.172, y: 0.768, xanchor: 'center', yanchor: 'middle',
   textangle: -90, showarrow: false, font: {family: SERIF, size: 23, color: '#222'}}
];

const layout = {
  width: 557, height: 525,
  margin: {l: 107, r: 7, t: 22, b: 24},
  paper_bgcolor: 'rgba(0,0,0,0)', plot_bgcolor: '#fff',
  showlegend: false,
  xaxis: Object.assign({}, xCommon, {anchor: 'y', showticklabels: false}),
  xaxis2: Object.assign({}, xCommon, {anchor: 'y2', matches: 'x', ticklabelstandoff: -6}),
  yaxis: Object.assign({}, yCommon, {domain: [0.503, 1], anchor: 'x'}),
  yaxis2: Object.assign({}, yCommon, {domain: [0, 0.503], anchor: 'x2'}),
  shapes: [
    {type: 'rect', xref: 'x', yref: 'y domain', x0: 0, x1: 3, y0: 0, y1: 1, fillcolor: '#c8c8c8', line: {width: 0}, layer: 'below'},
    {type: 'rect', xref: 'x2', yref: 'y2 domain', x0: 0, x1: 3, y0: 0, y1: 1, fillcolor: '#c8c8c8', line: {width: 0}, layer: 'below'}
  ],
  annotations: annotations
};
Plotly.newPlot('plot', traces, layout, {displayModeBar: false, staticPlot: true});
</script></body></html>
